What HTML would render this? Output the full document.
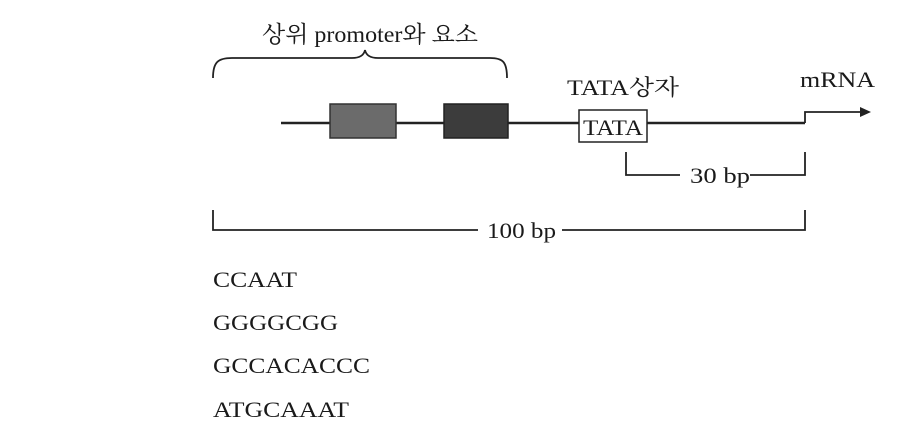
<!DOCTYPE html>
<html><head><meta charset="utf-8"><style>
html,body{margin:0;padding:0;background:#fff;}
svg text{font-family:"Liberation Serif","Noto Serif CJK SC","Noto Sans CJK KR",serif;fill:#1a1a1a;}
</style></head><body>
<svg width="910" height="426" viewBox="0 0 910 426" xmlns="http://www.w3.org/2000/svg">
<text x="262" y="42" font-size="23" textLength="216" lengthAdjust="spacingAndGlyphs">상위 promoter와 요소</text>
<path d="M213,78 C213,62 218,58 232,58 L352,58 C360,58 364,55 365,50 C366,55 370,58 378,58 L490,58 C503,58 507,62 507,78" fill="none" stroke="#222" stroke-width="1.8"/>
<line x1="281" y1="123" x2="805" y2="123" stroke="#222" stroke-width="2.5"/>
<rect x="330" y="104" width="66" height="34" fill="#6b6b6b" stroke="#333" stroke-width="1.5"/>
<rect x="444" y="104" width="64" height="34" fill="#3c3c3c" stroke="#222" stroke-width="1.5"/>
<rect x="579" y="110" width="68" height="32" fill="#fff" stroke="#222" stroke-width="1.5"/>
<text x="583" y="135" font-size="22" textLength="60" lengthAdjust="spacingAndGlyphs">TATA</text>
<text x="567" y="95" font-size="22" textLength="112" lengthAdjust="spacingAndGlyphs">TATA상자</text>
<text x="800" y="87" font-size="22" textLength="75" lengthAdjust="spacingAndGlyphs">mRNA</text>
<path d="M805,123 L805,112 L862,112" fill="none" stroke="#222" stroke-width="1.8"/>
<path d="M871,112 L860,107 L860,117 Z" fill="#222"/>
<path d="M626,152 L626,175 L680,175 M750,175 L805,175 L805,152" fill="none" stroke="#222" stroke-width="1.8"/>
<text x="690" y="183" font-size="22" textLength="60" lengthAdjust="spacingAndGlyphs">30 bp</text>
<path d="M213,210 L213,230 L478,230 M562,230 L805,230 L805,210" fill="none" stroke="#222" stroke-width="1.8"/>
<text x="487" y="238" font-size="22" textLength="69" lengthAdjust="spacingAndGlyphs">100 bp</text>
<text x="213" y="287" font-size="22" textLength="84" lengthAdjust="spacingAndGlyphs">CCAAT</text>
<text x="213" y="330" font-size="22" textLength="125" lengthAdjust="spacingAndGlyphs">GGGGCGG</text>
<text x="213" y="373" font-size="22" textLength="157" lengthAdjust="spacingAndGlyphs">GCCACACCC</text>
<text x="213" y="417" font-size="22" textLength="136" lengthAdjust="spacingAndGlyphs">ATGCAAAT</text>
</svg>
</body></html>
